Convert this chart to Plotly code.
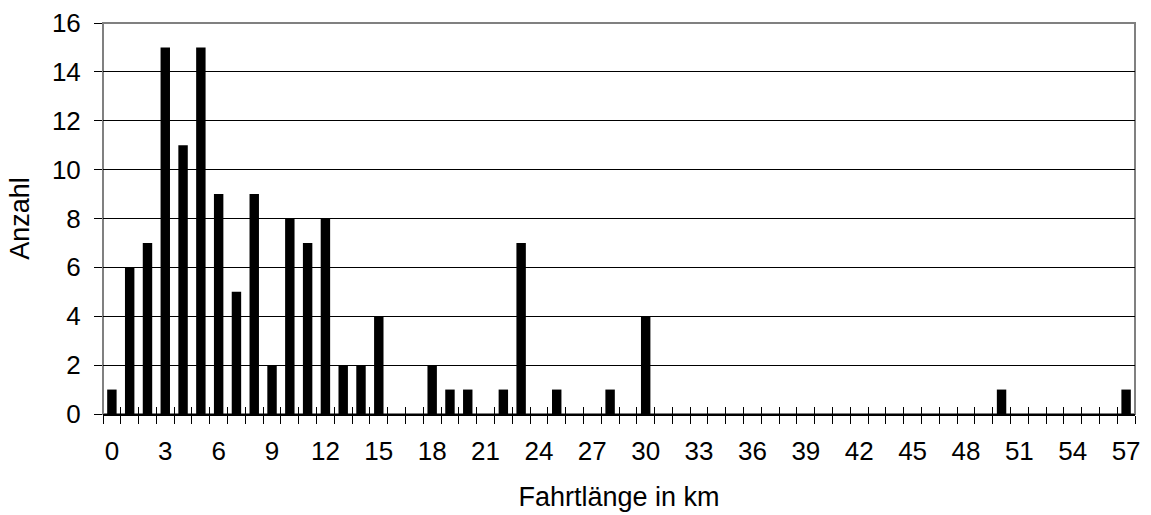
import plotly.graph_objects as go

# Trip length in km (0..57) and number of trips for each length
km = list(range(58))
anzahl = [1, 6, 7, 15, 11, 15, 9, 5, 9, 2,
          8, 7, 8, 2, 2, 4, None, None, 2, 1,
          1, None, 1, 7, None, 1, None, None, 1, None,
          4, None, None, None, None, None, None, None, None, None,
          None, None, None, None, None, None, None, None, None, None,
          1, None, None, None, None, None, None, 1]
label_km = list(range(0, 58, 3))
y_ticks = list(range(0, 17, 2))

FONT = "Liberation Sans, Arial, sans-serif"

fig = go.Figure()
fig.add_trace(go.Bar(x=km, y=anzahl, width=0.53,
                     marker=dict(color="black", line=dict(width=0)),
                     showlegend=False))
# carrier for the overlaid axis that draws the inner half of the category ticks
fig.add_trace(go.Scatter(x=[None], y=[None], xaxis="x2", showlegend=False,
                         hoverinfo="skip"))

xr = [-0.5, len(km) - 0.5]
fig.update_layout(
    width=1151, height=515,
    margin=dict(l=103, r=16, t=23, b=101),
    paper_bgcolor="white", plot_bgcolor="white",
    font=dict(family=FONT, size=26, color="black"),
    xaxis=dict(
        range=xr, showgrid=False, zeroline=False, automargin=False,
        tickmode="array", tickvals=label_km, ticktext=[str(v) for v in label_km],
        ticks="outside", ticklen=7, tickcolor="rgba(0,0,0,0)",
        ticklabelstandoff=6,
        showline=True, linecolor="black", linewidth=1.5,
        minor=dict(ticks="outside", tick0=-0.5, dtick=1, ticklen=8,
                   tickwidth=1, tickcolor="black", showgrid=False),
        title=dict(text="Fahrtlänge in km", font=dict(size=27), standoff=22),
    ),
    xaxis2=dict(
        overlaying="x", anchor="y", matches="x", range=xr, side="bottom",
        showgrid=False, zeroline=False, showticklabels=False,
        tickmode="linear", tick0=-0.5, dtick=1,
        ticks="inside", ticklen=7, tickwidth=1, tickcolor="black",
        showline=False,
    ),
    yaxis=dict(
        range=[0, 16], tickmode="array", tickvals=y_ticks, automargin=False,
        showgrid=True, gridcolor="black", gridwidth=1, zeroline=False,
        ticks="outside", ticklen=8, tickcolor="black",
        ticklabelstandoff=8,
        showline=False,
        title=dict(text="Anzahl", font=dict(size=27), standoff=14),
    ),
    shapes=[dict(type="rect", xref="paper", yref="paper", x0=0, y0=0, x1=1, y1=1,
                 line=dict(color="#808080", width=2), layer="below")],
    bargap=0.47,
)

fig.write_html("out.html")
